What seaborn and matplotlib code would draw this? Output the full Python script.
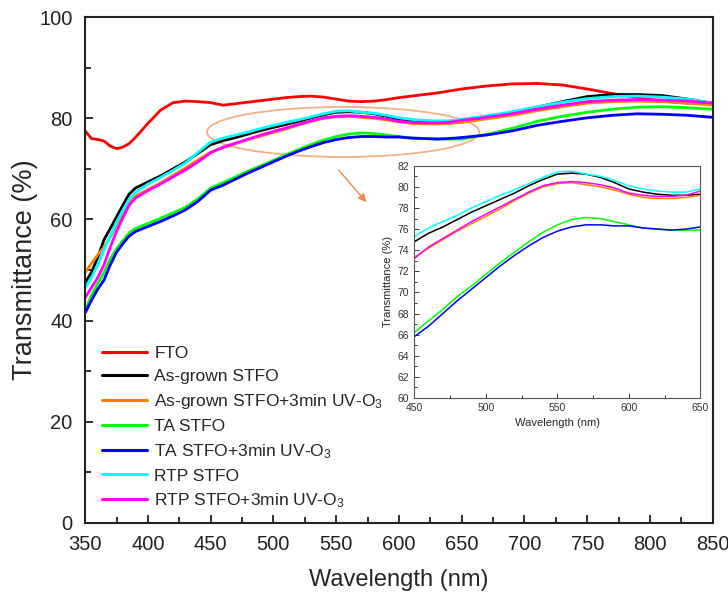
import pandas as pd
import seaborn as sns
import matplotlib.pyplot as plt
from matplotlib.patches import Ellipse
from matplotlib.ticker import MultipleLocator

# wavelength grid (nm)
wl = [350, 355, 360, 365, 370, 375, 380, 385, 390, 400, 410, 420, 430, 440, 450,
      460, 470, 480, 490, 500, 510, 520, 530, 540, 550, 560, 570, 580, 590, 600,
      610, 620, 630, 640, 650, 670, 690, 710, 730, 750, 770, 790, 810, 830, 850]

fto = [77.5, 76.0, 75.8, 75.5, 74.5, 74.0, 74.3, 75.0, 76.2, 79.0, 81.6, 83.1, 83.4, 83.3, 83.1,
       82.6, 82.9, 83.2, 83.5, 83.8, 84.1, 84.3, 84.4, 84.2, 83.8, 83.4, 83.3, 83.4, 83.7, 84.1,
       84.4, 84.7, 85.0, 85.4, 85.8, 86.4, 86.8, 86.9, 86.6, 85.8, 84.9, 84.1, 83.4, 83.0, 82.8]
asgrown = [47.5, 49.5, 52.5, 56.0, 58.2, 60.5, 62.8, 65.0, 66.2, 67.4, 68.6, 70.0, 71.4, 73.1, 74.8,
           75.6, 76.2, 76.9, 77.6, 78.2, 78.8, 79.4, 80.1, 80.7, 81.2, 81.3, 81.2, 80.9, 80.4, 79.8,
           79.5, 79.3, 79.2, 79.2, 79.3, 80.1, 81.1, 82.2, 83.3, 84.3, 84.7, 84.7, 84.5, 83.8, 83.0]
asgrown_uv = [49.5, 51.3, 53.0, 54.5, 56.5, 59.0, 61.3, 63.2, 64.6, 65.9, 67.2, 68.7, 70.2, 71.8, 73.3,
              74.2, 75.0, 75.8, 76.5, 77.2, 77.9, 78.7, 79.4, 80.0, 80.3, 80.4, 80.2, 80.0, 79.7, 79.3,
              79.0, 78.9, 78.9, 79.0, 79.2, 79.9, 80.6, 81.5, 82.3, 83.0, 83.3, 83.4, 83.3, 83.0, 82.6]
ta = [42.0, 45.0, 47.3, 49.5, 52.2, 54.2, 55.8, 57.3, 58.2, 59.2, 60.2, 61.3, 62.4, 64.1, 66.2,
      67.3, 68.4, 69.6, 70.6, 71.7, 72.8, 73.8, 74.8, 75.7, 76.4, 76.9, 77.1, 77.0, 76.7, 76.4,
      76.1, 76.0, 75.9, 75.9, 75.9, 76.8, 78.0, 79.4, 80.4, 81.2, 81.8, 82.2, 82.3, 82.1, 81.8]
ta_uv = [41.5, 44.0, 46.2, 48.0, 51.0, 53.5, 55.2, 56.7, 57.6, 58.6, 59.6, 60.7, 61.9, 63.6, 65.8,
         66.8, 68.0, 69.2, 70.3, 71.4, 72.5, 73.5, 74.4, 75.2, 75.8, 76.2, 76.4, 76.4, 76.3, 76.3,
         76.1, 76.0, 75.9, 76.0, 76.2, 76.7, 77.5, 78.6, 79.4, 80.1, 80.6, 80.9, 80.8, 80.6, 80.2]
rtp = [46.5, 48.5, 51.0, 54.0, 56.7, 59.5, 61.8, 64.0, 65.3, 67.0, 68.3, 69.7, 71.2, 73.3, 75.3,
       76.1, 76.7, 77.3, 78.0, 78.6, 79.2, 79.7, 80.3, 80.9, 81.4, 81.5, 81.2, 81.0, 80.6, 80.1,
       79.8, 79.6, 79.5, 79.5, 79.8, 80.5, 81.3, 82.3, 83.2, 83.9, 84.3, 84.4, 84.2, 83.8, 83.0]
rtp_uv = [44.5, 46.5, 48.5, 51.0, 54.5, 57.7, 60.3, 62.8, 64.2, 65.7, 67.0, 68.4, 69.8, 71.4, 73.2,
          74.3, 75.1, 75.9, 76.7, 77.4, 78.1, 78.8, 79.5, 80.1, 80.4, 80.5, 80.4, 80.2, 79.9, 79.4,
          79.2, 79.1, 79.1, 79.2, 79.6, 80.2, 80.9, 81.8, 82.6, 83.3, 83.6, 83.7, 83.6, 83.4, 83.0]

names = ['FTO', 'As-grown STFO', 'As-grown STFO+3min UV-O$_3$', 'TA STFO',
         'TA STFO+3min UV-O$_3$', 'RTP STFO', 'RTP STFO+3min UV-O$_3$']
colors = ['#ff0000', '#000000', '#ff8000', '#00ff00', '#0000ff', '#00ffff', '#ff00ff']
series = [fto, asgrown, asgrown_uv, ta, ta_uv, rtp, rtp_uv]

df = pd.DataFrame({'wl': wl})
for n, s in zip(names, series):
    df[n] = s
long = df.melt(id_vars='wl', var_name='sample', value_name='T')
pal = dict(zip(names, colors))

sns.set_theme(style='ticks')
plt.rcParams['font.family'] = ['Liberation Sans', 'DejaVu Sans']
plt.rcParams['mathtext.fontset'] = 'custom'
plt.rcParams['mathtext.rm'] = 'Liberation Sans'
plt.rcParams['mathtext.it'] = 'Liberation Sans:italic'

fig = plt.figure(figsize=(7.28, 5.94), dpi=100)
ax = fig.add_axes([0.117, 0.12, 0.862, 0.851])

sns.lineplot(data=long, x='wl', y='T', hue='sample', hue_order=names, palette=pal,
             lw=2.0, ax=ax, sort=False)
ax.set_xlim(350, 850)
ax.set_ylim(0, 100)
ax.xaxis.set_major_locator(MultipleLocator(50))
ax.xaxis.set_minor_locator(MultipleLocator(25))
ax.yaxis.set_major_locator(MultipleLocator(20))
ax.yaxis.set_minor_locator(MultipleLocator(10))
ax.tick_params(which='both', direction='in', width=1.3, labelsize=14.5, colors='#222222')
ax.tick_params(which='major', length=6)
ax.tick_params(which='minor', length=4)
ax.tick_params(axis='x', pad=9)
ax.tick_params(axis='y', pad=9)
for sp in ax.spines.values():
    sp.set_linewidth(1.5)
    sp.set_color('#222222')
ax.set_xlabel('Wavelength (nm)', fontsize=17, labelpad=11)
ax.set_ylabel('Transmittance (%)', fontsize=19.5, labelpad=1)

leg = ax.legend(loc='upper left', bbox_to_anchor=(0.015, 0.363), frameon=False,
                fontsize=12.5, handlelength=2.6, handletextpad=0.45,
                labelspacing=0.45, borderaxespad=0)
for h in leg.get_lines():
    h.set_linewidth(2.2)

# zoom ellipse and arrow
ax.add_patch(Ellipse((555.5, 77.3), 217, 9.9, fill=False, ec='#f4b183', lw=1.3))
ax.annotate('', xy=(575.5, 63.0), xytext=(550.5, 70.2),
            arrowprops=dict(arrowstyle='-|>', color='#ed8a45', lw=1.0, mutation_scale=12))

# inset
ins = fig.add_axes([0.569, 0.330, 0.393, 0.391])
sub = long[(long.wl >= 450) & (long.wl <= 650)]
sns.lineplot(data=sub, x='wl', y='T', hue='sample', hue_order=names, palette=pal,
             lw=1.1, ax=ins, legend=False, sort=False)
ins.set_xlim(450, 650)
ins.set_ylim(60, 82)
ins.xaxis.set_major_locator(MultipleLocator(50))
ins.xaxis.set_minor_locator(MultipleLocator(25))
ins.yaxis.set_major_locator(MultipleLocator(2))
ins.yaxis.set_minor_locator(MultipleLocator(1))
ins.tick_params(which='both', direction='in', labelsize=7.5, colors='#333333', width=0.7)
ins.tick_params(which='major', length=3.5)
ins.tick_params(which='minor', length=2)
for sp in ins.spines.values():
    sp.set_linewidth(0.8)
    sp.set_color('#555555')
ins.set_xlabel('Wavelength (nm)', fontsize=8, labelpad=4)
ins.set_ylabel('Transmittance (%)', fontsize=8, labelpad=3)

plt.savefig('out.png', dpi=100)
